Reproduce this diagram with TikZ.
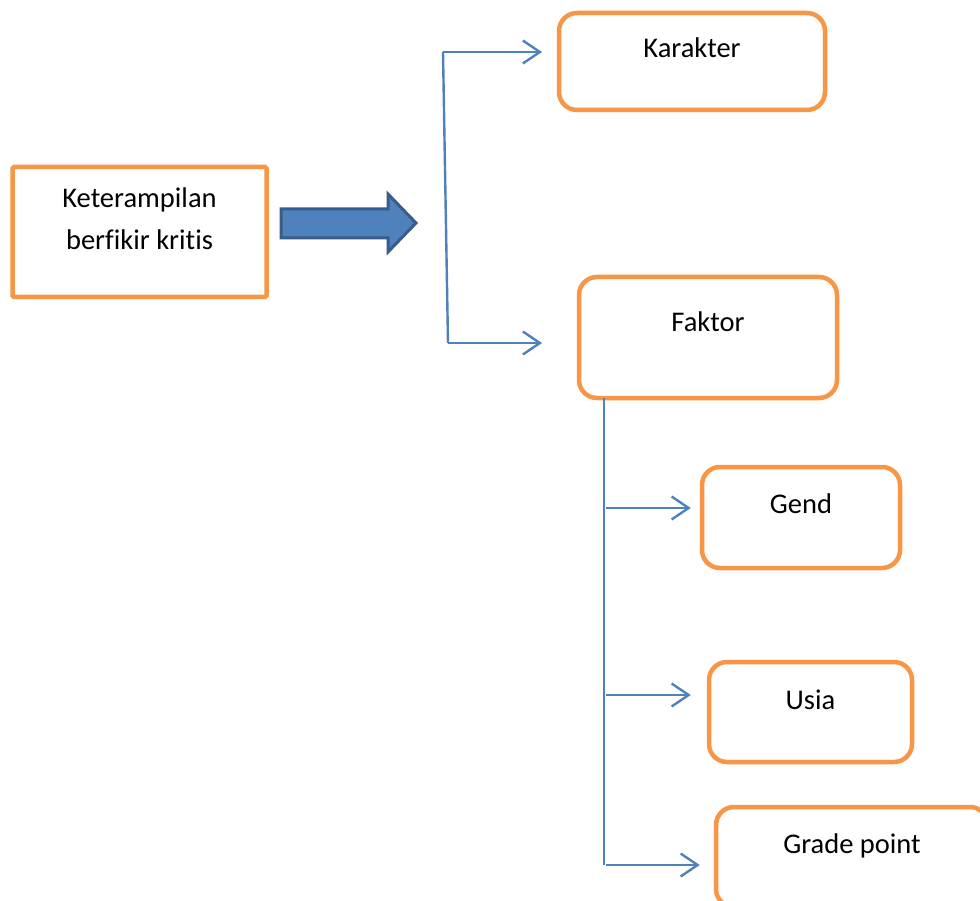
\documentclass[tikz,border=0pt]{standalone}
\usepackage{fontspec}
\setmainfont{Carlito}[RawFeature={-liga}]
\usetikzlibrary{arrows.meta}
\definecolor{boxorange}{HTML}{F79646}
\definecolor{lineblue}{HTML}{4F81BD}
\definecolor{arrowedge}{HTML}{385D8A}
\tikzset{
  box/.style={draw=boxorange, line width=4.5pt, fill=white, rounded corners=18pt, inner sep=0pt},
  plainbox/.style={draw=boxorange, line width=4.5pt, fill=white, rounded corners=1.5pt, inner sep=0pt},
  txt/.style={anchor=base, inner sep=0pt, font=\fontsize{28.5}{41}\selectfont},
  link/.style={draw=lineblue, line width=2.4pt, -{Straight Barb[length=17pt,width=23pt,line width=2.4pt]}},
  trunk/.style={draw=lineblue, line width=2.4pt}
}
\begin{document}
\begin{tikzpicture}[x=1pt,y=-1pt]
\clip (0,0) rectangle (980,901);
\fill[white] (0,0) rectangle (980,901);

% source box
\node[plainbox, minimum width=254pt, minimum height=130pt] (ket) at (139.5,232) {};
\node[txt] (ket-t1) at (139.5,208) {Keterampilan};
\node[txt] (ket-t2) at (139.5,250) {berfikir kritis};

% thick block arrow
\filldraw[fill=lineblue, draw=arrowedge, line width=3pt, line join=miter]
  (281,209) -- (388,209) -- (388,194) -- (416,223) -- (388,252) -- (388,238) -- (281,238) -- cycle;

% right-hand boxes
\node[box, minimum width=266pt, minimum height=97pt] (kar) at (692,61.5) {};
\node[txt] (kar-t) at (692,58) {Karakter};
\node[box, minimum width=258pt, minimum height=121pt] (fak) at (708,337.5) {};
\node[txt] (fak-t) at (708,332) {Faktor};
\node[box, minimum width=198pt, minimum height=101pt] (gen) at (801,517.5) {};
\node[txt] (gen-t) at (801,513) {Gend};
\node[box, minimum width=203pt, minimum height=100pt] (usi) at (810.5,712) {};
\node[txt] (usi-t) at (810.5,709) {Usia};
\node[box, minimum width=272pt, minimum height=100pt] (grd) at (852,857) {};
\node[txt] (grd-t) at (852,853) {Grade point};

% bracket from the block arrow to the two main boxes
\coordinate (bt) at (443,52);
\coordinate (bb) at (448,343);
\coordinate (kar-in) at (542,52);
\coordinate (fak-in) at (542,343);
\draw[trunk] (bt) -- (bb);
\draw[link] (bt) -- (kar-in);
\draw[link] (bb) -- (fak-in);

% factor branches
\coordinate (tr-top) at (604,398);
\coordinate (tr-bot) at (604,865);
\draw[trunk] (tr-top) -- (tr-bot);
\coordinate (g0) at (606,508);
\coordinate (u0) at (606,695);
\coordinate (p0) at (606,865);
\draw[link] (g0) -- ([xshift=-9pt]gen.west |- g0);
\draw[link] (u0) -- ([xshift=-16pt]usi.west |- u0);
\draw[link] (p0) -- ([xshift=-14pt]grd.west |- p0);
\end{tikzpicture}
\end{document}
